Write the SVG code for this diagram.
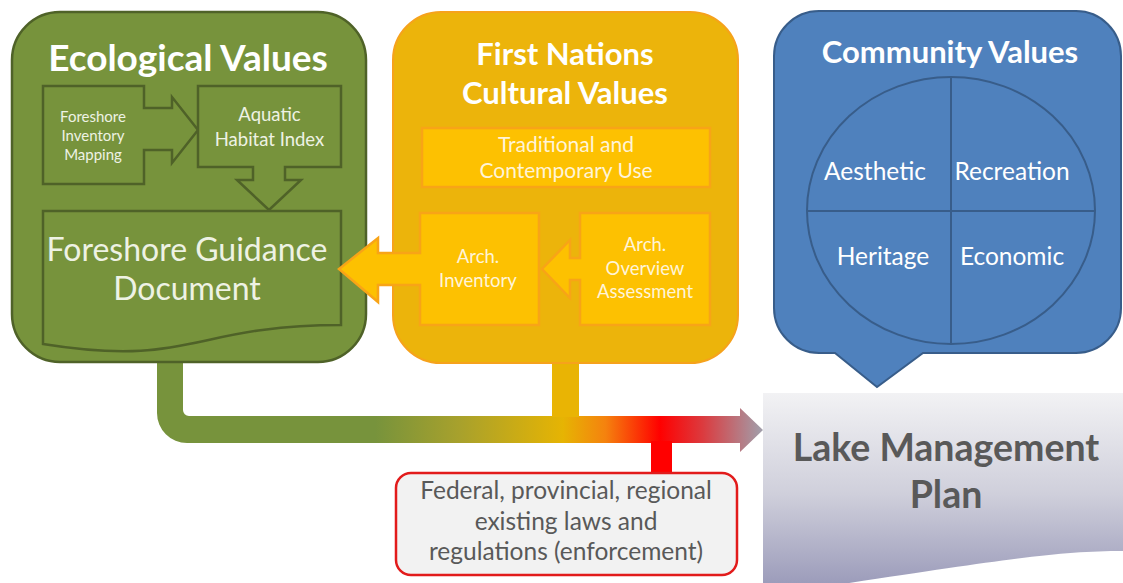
<svg xmlns="http://www.w3.org/2000/svg" width="1123" height="583" viewBox="0 0 1123 583">
<style>
.t{font-family:Lato,"Open Sans","DejaVu Sans",sans-serif;text-anchor:middle}
.b{font-weight:bold}
.w{fill:#ffffff}
.gw{fill:#eef2e4}
.ow{fill:#fff4d8}
.gray{fill:#595959}
.gbox{fill:#77933c;stroke:#4f6228;stroke-width:2.5}
.obox{fill:#ecb40b;stroke:#f6a21c;stroke-width:2}
.oin{fill:#fdc101;stroke:#f8a417;stroke-width:2.5}
.bbox{fill:#4f81bd;stroke:#385d8a;stroke-width:2}
</style>
<defs>
<linearGradient id="flow" gradientUnits="userSpaceOnUse" x1="157" y1="0" x2="763" y2="0">
<stop offset="0" stop-color="#77933c"/>
<stop offset="0.36" stop-color="#77933c"/>
<stop offset="0.5" stop-color="#a8a12c"/>
<stop offset="0.67" stop-color="#e6b403"/>
<stop offset="0.74" stop-color="#f5820e"/>
<stop offset="0.83" stop-color="#ff0000"/>
<stop offset="0.9" stop-color="#dc3a3e"/>
<stop offset="1" stop-color="#a0a0ac"/>
</linearGradient>
<linearGradient id="lake" x1="0" y1="0" x2="0" y2="1">
<stop offset="0" stop-color="#f2f2f4"/>
<stop offset="0.5" stop-color="#cfcfdb"/>
<stop offset="1" stop-color="#9595b6"/>
</linearGradient>
</defs>

<g id="connectors">
<path d="M157,362 V413 A30,30 0 0 0 187,443 H740 V452 L763,430 L740,408 V416 H189 A6,6 0 0 1 183,410 V362 Z" fill="url(#flow)"/>
<rect x="552" y="361" width="27" height="56" fill="#e9b404"/>
<rect x="651" y="441" width="21" height="33" fill="#ff0000"/>
</g>

<g id="ecological">
<rect class="gbox" x="12" y="12" width="354" height="350" rx="48" ry="48"/>
<text class="t b w" x="188" y="71" font-size="37">Ecological Values</text>
</g>

<g id="foreshore-inventory">
<path class="gbox" d="M43,86 H144 V108 H172 V97 L198,130 L172,163 V150 H144 V184 H43 Z"/>
<text class="t gw" x="93" font-size="15"><tspan x="93" y="122">Foreshore</tspan><tspan x="93" y="141">Inventory</tspan><tspan x="93" y="160">Mapping</tspan></text>
</g>

<g id="aquatic-habitat">
<path class="gbox" d="M198,86 H341 V167 H285 V180 H301 L269,210 L237,180 H253 V167 H198 Z"/>
<text class="t gw" font-size="18.5"><tspan x="269.5" y="121">Aquatic</tspan><tspan x="269.5" y="146">Habitat Index</tspan></text>
</g>

<g id="guidance-doc">
<path class="gbox" d="M43,211 H341 V325 C192,325 192,368 43,344 Z"/>
<text class="t gw" font-size="32"><tspan x="187" y="261">Foreshore Guidance</tspan><tspan x="187" y="300">Document</tspan></text>
</g>

<g id="first-nations">
<rect class="obox" x="393" y="12" width="345" height="351" rx="48" ry="48"/>
<text class="t b w" font-size="31"><tspan x="565" y="65">First Nations</tspan><tspan x="565" y="104">Cultural Values</tspan></text>
</g>

<g id="traditional-use">
<rect class="oin" x="422" y="128" width="288" height="59"/>
<text class="t ow" font-size="21"><tspan x="566" y="152">Traditional and</tspan><tspan x="566" y="178">Contemporary Use</tspan></text>
</g>

<g id="arch-inventory">
<path class="oin" d="M420,213 H539 V325 H420 V285 H378 V302 L339,269 L378,238 V253 H420 Z"/>
<text class="t ow" font-size="18.5"><tspan x="478" y="263">Arch.</tspan><tspan x="478" y="287">Inventory</tspan></text>
</g>

<g id="arch-overview">
<path class="oin" d="M580,213 H710 V325 H580 V280 H570 V298 L542,269 L570,240 V258 H580 Z"/>
<text class="t ow" font-size="18.5"><tspan x="645" y="251">Arch.</tspan><tspan x="645" y="275">Overview</tspan><tspan x="645" y="298">Assessment</tspan></text>
</g>

<g id="community">
<path class="bbox" d="M819,11 H1076 A45,45 0 0 1 1121,56 V308 A45,45 0 0 1 1076,353 H923 L877,387 L835,353 H819 A45,45 0 0 1 774,308 V56 A45,45 0 0 1 819,11 Z"/>
<text class="t b w" x="950" y="63" font-size="31">Community Values</text>
<ellipse cx="951" cy="210.5" rx="144" ry="133.5" fill="none" stroke="#385d8a" stroke-width="2"/>
<line x1="951" y1="77" x2="951" y2="344" stroke="#385d8a" stroke-width="2"/>
<line x1="807" y1="211" x2="1095" y2="211" stroke="#385d8a" stroke-width="2"/>
<text class="t w" font-size="24.5"><tspan x="875" y="180">Aesthetic</tspan><tspan x="1012" y="180">Recreation</tspan><tspan x="883" y="265">Heritage</tspan><tspan x="1012" y="265">Economic</tspan></text>
</g>

<g id="lake-plan">
<path d="M763,393 H1123 V551 C1050,551 990,562 763,596 Z" fill="url(#lake)"/>
<text class="t b gray" font-size="37.5"><tspan x="946" y="461">Lake Management</tspan><tspan x="946" y="508">Plan</tspan></text>
</g>

<g id="laws">
<rect x="396" y="473" width="341" height="102" rx="15" ry="15" fill="#f2f2f2" stroke="#e21b1b" stroke-width="2.5"/>
<text class="t gray" font-size="24.5"><tspan x="566" y="499">Federal, provincial, regional</tspan><tspan x="566" y="530">existing laws and</tspan><tspan x="566" y="560">regulations (enforcement)</tspan></text>
</g>
</svg>
